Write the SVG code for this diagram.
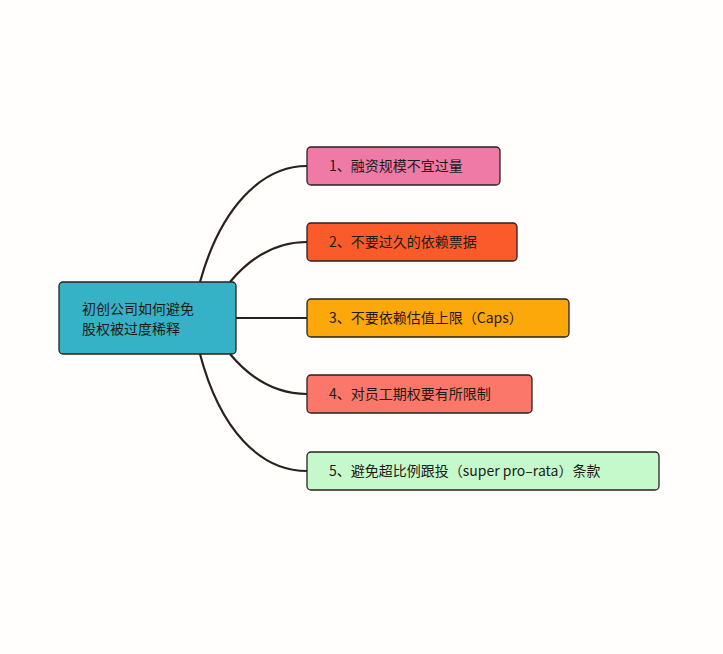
<svg xmlns="http://www.w3.org/2000/svg" width="723" height="654" viewBox="0 0 723 654">
<style>
.n{stroke:#2b211c;stroke-width:1.3}
.t{font-family:"Noto Sans CJK SC","Noto Sans",sans-serif;font-size:14px;fill:#1f1a17}
.c{fill:none;stroke:#2b211c;stroke-width:2.2}
</style>
<rect width="723" height="654" fill="#fffefd"/>
<g id="connectors">
<path class="c" d="M200,282 C220,210 260,166 307,166"/>
<path class="c" d="M230,282 C250,258 275,242 307,242"/>
<path class="c" d="M236,318 L307,318"/>
<path class="c" d="M230,354 C250,378 275,394 307,394"/>
<path class="c" d="M200,354 C220,430 260,471 307,471"/>
</g>
<g id="root"><rect class="n" x="59" y="282" width="177" height="72" rx="4" fill="#35b2c5"/>
<text class="t" x="82" y="314">初创公司如何避免</text><text class="t" x="82" y="334">股权被过度稀释</text></g>
<g id="n1"><rect class="n" x="307" y="147" width="193" height="38" rx="4" fill="#f07aa6"/><text class="t" x="329" y="171">1、融资规模不宜过量</text></g>
<g id="n2"><rect class="n" x="307" y="223" width="210" height="38" rx="4" fill="#fb5a2b"/><text class="t" x="329" y="247">2、不要过久的依赖票据</text></g>
<g id="n3"><rect class="n" x="307" y="299" width="262" height="38" rx="4" fill="#fca70a"/><text class="t" x="329" y="323">3、不要依赖估值上限（Caps）</text></g>
<g id="n4"><rect class="n" x="307" y="375" width="225" height="38" rx="4" fill="#fa776a"/><text class="t" x="329" y="399">4、对员工期权要有所限制</text></g>
<g id="n5"><rect class="n" x="307" y="452" width="352" height="38" rx="4" fill="#c5f9cc"/><text class="t" x="329" y="476">5、避免超比例跟投（super pro–rata）条款</text></g>
</svg>
